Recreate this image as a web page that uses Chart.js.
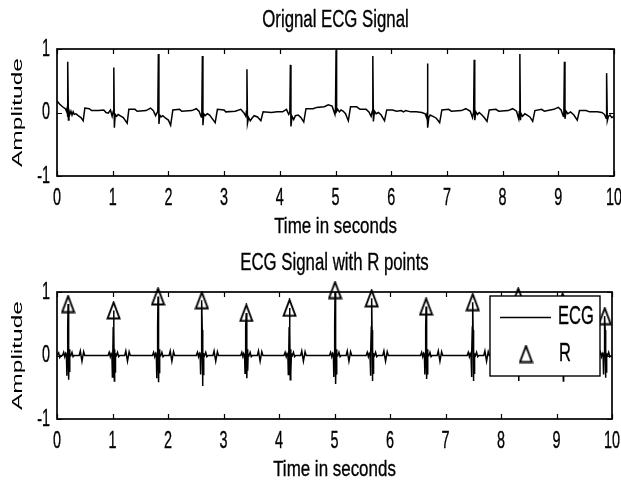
<!DOCTYPE html>
<html>
<head>
<meta charset="utf-8">
<script src="https://cdn.jsdelivr.net/npm/chart.js@4.4.1/dist/chart.umd.min.js"></script>
<style>
  html, body { margin: 0; padding: 0; background: #fff; }
  .panel { position: relative; width: 621px; height: 243px; }
</style>
</head>
<body>
<div class="panel"><canvas id="ecgChart"></canvas></div>
<div class="panel"><canvas id="rChart"></canvas></div>
<script>
// tick values shown on both axes
var xTickVals = [0, 1, 2, 3, 4, 5, 6, 7, 8, 9, 10];
var yTickVals = [-1, 0, 1];

// raw ECG (top panel), vertices
var ecgTime = [
  0.00, 0.05, 0.10, 0.15, 0.17, 0.18, 0.19, 0.195, 0.205, 0.215, 0.23, 0.25, 0.27, 0.29, 0.31, 0.34, 0.38, 0.43, 0.47, 0.50, 0.58, 0.62, 0.75, 0.84, 0.88, 0.92, 0.96, 0.99, 1.01,
  1.02, 1.03, 1.045, 1.07, 1.10, 1.13, 1.19, 1.26, 1.29, 1.40, 1.44, 1.60, 1.68, 1.73, 1.77, 1.81,
  1.82, 1.83, 1.845, 1.87, 1.90, 1.95, 2.00, 2.04, 2.08, 2.20, 2.24, 2.42, 2.50, 2.55, 2.59, 2.60,
  2.61, 2.62, 2.635, 2.66, 2.70, 2.74, 2.79, 2.84, 2.88, 3.00, 3.03, 3.20, 3.30, 3.36, 3.39, 3.40,
  3.41, 3.42, 3.44, 3.47, 3.50, 3.54, 3.60, 3.66, 3.70, 3.85, 3.95, 4.05, 4.12, 4.16, 4.18,
  4.19, 4.20, 4.22, 4.25, 4.28, 4.33, 4.38, 4.43, 4.47, 4.60, 4.66, 4.80, 4.87, 4.94, 4.99, 5.00,
  5.01, 5.02, 5.04, 5.07, 5.10, 5.14, 5.18, 5.23, 5.27, 5.38, 5.44, 5.55, 5.60, 5.64, 5.66,
  5.67, 5.68, 5.70, 5.73, 5.77, 5.82, 5.88, 5.92, 6.02, 6.10, 6.18, 6.22, 6.26, 6.35, 6.45, 6.55, 6.61, 6.635, 6.645,
  6.65, 6.66, 6.675, 6.70, 6.75, 6.81, 6.87, 6.91, 7.03, 7.08, 7.26, 7.34, 7.42, 7.46, 7.48,
  7.49, 7.50, 7.52, 7.55, 7.58, 7.63, 7.67, 7.72, 7.76, 7.88, 7.93, 8.10, 8.18, 8.25, 8.29, 8.30,
  8.31, 8.32, 8.335, 8.36, 8.40, 8.44, 8.49, 8.54, 8.58, 8.70, 8.75, 8.92, 9.00, 9.05, 9.09, 9.10,
  9.11, 9.12, 9.14, 9.17, 9.22, 9.28, 9.34, 9.38, 9.50, 9.56, 9.70, 9.78, 9.83, 9.86, 9.865,
  9.87, 9.88, 9.90, 9.93, 9.96, 10.0
];
var ecgAmp = [
  0.18, 0.13, 0.09, 0.06, 0.02, 0.06, -0.07, 0.80, -0.12, 0.03, -0.03, 0.02, -0.04, 0.01, -0.03, -0.02, -0.05, -0.08, -0.13, 0.07, 0.06, 0.03, 0.03, 0.04, 0.00, -0.01, 0.04, -0.06, 0.02,
  0.71, -0.24, -0.03, -0.06, -0.03, -0.05, -0.08, -0.17, 0.05, 0.05, 0.02, 0.03, 0.07, 0.03, -0.05, 0.02,
  0.92, -0.18, -0.04, -0.07, -0.05, -0.09, -0.12, -0.20, 0.04, 0.05, 0.02, 0.03, 0.06, 0.02, -0.07, 0.01,
  0.89, -0.20, -0.02, -0.05, -0.02, -0.04, -0.10, -0.16, 0.05, 0.04, 0.01, 0.02, 0.05, -0.01, -0.06, 0.02,
  0.68, -0.17, -0.08, -0.13, -0.09, -0.05, -0.07, -0.13, 0.01, 0.00, 0.01, 0.01, 0.05, -0.03, 0.00,
  0.75, -0.22, -0.06, -0.11, -0.05, -0.04, -0.08, -0.15, 0.06, 0.06, 0.08, 0.09, 0.12, 0.10, -0.03, 0.06,
  0.98, 0.02, 0.05, 0.01, 0.04, 0.02, -0.02, -0.13, 0.09, 0.09, 0.05, 0.05, 0.01, -0.06, 0.02,
  0.89, -0.14, 0.02, -0.02, 0.00, -0.04, -0.13, 0.04, 0.04, 0.02, 0.03, 0.01, 0.03, 0.01, 0.01, 0.00, -0.02, -0.08, 0.00,
  0.77, -0.24, -0.08, -0.04, -0.06, -0.09, -0.16, 0.04, 0.05, 0.02, 0.03, 0.06, 0.02, -0.08, 0.01,
  0.83, -0.12, 0.01, -0.03, 0.00, -0.04, -0.08, -0.14, 0.04, 0.05, 0.02, 0.03, 0.06, 0.02, -0.10, 0.01,
  0.92, -0.12, -0.02, -0.06, -0.02, -0.04, -0.07, -0.14, 0.03, 0.05, 0.02, 0.05, 0.08, 0.04, -0.06, 0.02,
  0.80, -0.10, 0.02, -0.02, 0.01, -0.04, -0.12, 0.03, 0.03, 0.01, 0.01, 0.00, -0.03, -0.09, 0.00,
  0.62, -0.13, -0.06, -0.04, -0.08, -0.06
];

// filtered ECG (bottom panel)
var filtTime = [
  0.00, 0.03, 0.05, 0.07,
  0.10, 0.12, 0.14, 0.155, 0.170, 0.178, 0.186, 0.193, 0.20, 0.207, 0.213, 0.219, 0.226, 0.234, 0.25, 0.27, 0.29, 0.31, 0.40, 0.42, 0.45, 0.48, 0.50,
  0.92, 0.94, 0.96, 0.975, 0.990, 0.998, 1.006, 1.013, 1.02, 1.027, 1.033, 1.039, 1.046, 1.054, 1.07, 1.09, 1.11, 1.13, 1.22, 1.24, 1.27, 1.30, 1.32,
  1.72, 1.74, 1.76, 1.775, 1.790, 1.798, 1.806, 1.813, 1.82, 1.827, 1.833, 1.839, 1.846, 1.854, 1.87, 1.89, 1.91, 1.93, 2.02, 2.04, 2.07, 2.10, 2.12,
  2.51, 2.53, 2.55, 2.565, 2.580, 2.588, 2.596, 2.603, 2.61, 2.617, 2.623, 2.629, 2.636, 2.644, 2.66, 2.68, 2.70, 2.72, 2.81, 2.83, 2.86, 2.89, 2.91,
  3.31, 3.33, 3.35, 3.365, 3.380, 3.388, 3.396, 3.403, 3.41, 3.417, 3.423, 3.429, 3.436, 3.444, 3.46, 3.48, 3.50, 3.52, 3.61, 3.63, 3.66, 3.69, 3.71,
  4.09, 4.11, 4.13, 4.145, 4.160, 4.168, 4.176, 4.183, 4.19, 4.197, 4.203, 4.209, 4.216, 4.224, 4.24, 4.26, 4.28, 4.30, 4.39, 4.41, 4.44, 4.47, 4.49,
  4.91, 4.93, 4.95, 4.965, 4.980, 4.988, 4.996, 5.003, 5.01, 5.017, 5.023, 5.029, 5.036, 5.044, 5.06, 5.08, 5.10, 5.12, 5.21, 5.23, 5.26, 5.29, 5.31,
  5.57, 5.59, 5.61, 5.625, 5.640, 5.648, 5.656, 5.663, 5.67, 5.677, 5.683, 5.689, 5.696, 5.704, 5.72, 5.74, 5.76, 5.78, 5.87, 5.89, 5.92, 5.95, 5.97,
  6.55, 6.57, 6.59, 6.605, 6.620, 6.628, 6.636, 6.643, 6.65, 6.657, 6.663, 6.669, 6.676, 6.684, 6.70, 6.72, 6.74, 6.76, 6.85, 6.87, 6.90, 6.93, 6.95,
  7.39, 7.41, 7.43, 7.445, 7.460, 7.468, 7.476, 7.483, 7.49, 7.497, 7.503, 7.509, 7.516, 7.524, 7.54, 7.56, 7.58, 7.60, 7.69, 7.71, 7.74, 7.77, 7.79,
  8.21, 8.23, 8.25, 8.265, 8.280, 8.288, 8.296, 8.303, 8.31, 8.317, 8.323, 8.329, 8.336, 8.344, 8.36, 8.38, 8.40, 8.42, 8.51, 8.53, 8.56, 8.59, 8.61,
  9.01, 9.03, 9.05, 9.065, 9.080, 9.088, 9.096, 9.103, 9.11, 9.117, 9.123, 9.129, 9.136, 9.144, 9.16, 9.18, 9.20, 9.22, 9.31, 9.33, 9.36, 9.39, 9.41,
  9.77, 9.79, 9.81, 9.825, 9.840, 9.848, 9.856, 9.863, 9.87, 9.877, 9.883, 9.889, 9.896, 9.904, 9.92, 9.94, 9.96, 10.0
];
var filtAmp = [
  0.00, 0.04, -0.03, 0.00,
  0.00, 0.05, -0.02, 0.03, 0.00, -0.32, 0.04, 0.45, 0.81, 0.40, -0.38, 0.10, -0.26, 0.02, 0.00, 0.05, -0.02, 0.00, 0.00, 0.07, -0.09, 0.06, 0.00,
  0.00, 0.05, -0.02, 0.03, 0.00, -0.34, 0.04, 0.45, 0.71, 0.40, -0.40, 0.10, -0.26, 0.02, 0.00, 0.05, -0.02, 0.00, 0.00, 0.07, -0.09, 0.06, 0.00,
  0.00, 0.05, -0.02, 0.03, 0.00, -0.36, 0.04, 0.45, 0.93, 0.40, -0.42, 0.10, -0.28, 0.02, 0.00, 0.05, -0.02, 0.00, 0.00, 0.07, -0.09, 0.06, 0.00,
  0.00, 0.05, -0.02, 0.03, 0.00, -0.30, 0.04, 0.45, 0.87, 0.40, -0.48, 0.10, -0.30, 0.02, 0.00, 0.05, -0.02, 0.00, 0.00, 0.07, -0.09, 0.06, 0.00,
  0.00, 0.05, -0.02, 0.03, 0.00, -0.28, 0.04, 0.45, 0.67, 0.40, -0.36, 0.10, -0.24, 0.02, 0.00, 0.05, -0.02, 0.00, 0.00, 0.07, -0.09, 0.06, 0.00,
  0.00, 0.05, -0.02, 0.03, 0.00, -0.30, 0.04, 0.45, 0.75, 0.40, -0.38, 0.10, -0.26, 0.02, 0.00, 0.05, -0.02, 0.00, 0.00, 0.07, -0.09, 0.06, 0.00,
  0.00, 0.05, -0.02, 0.03, 0.00, -0.34, 0.04, 0.45, 1.03, 0.40, -0.45, 0.10, -0.30, 0.02, 0.00, 0.05, -0.02, 0.00, 0.00, 0.07, -0.09, 0.06, 0.00,
  0.00, 0.05, -0.02, 0.03, 0.00, -0.32, 0.04, 0.45, 0.90, 0.40, -0.40, 0.10, -0.28, 0.02, 0.00, 0.05, -0.02, 0.00, 0.00, 0.07, -0.09, 0.06, 0.00,
  0.00, 0.05, -0.02, 0.03, 0.00, -0.30, 0.04, 0.45, 0.77, 0.40, -0.37, 0.10, -0.30, 0.02, 0.00, 0.05, -0.02, 0.00, 0.00, 0.07, -0.09, 0.06, 0.00,
  0.00, 0.05, -0.02, 0.03, 0.00, -0.34, 0.04, 0.45, 0.84, 0.40, -0.40, 0.10, -0.28, 0.02, 0.00, 0.05, -0.02, 0.00, 0.00, 0.07, -0.09, 0.06, 0.00,
  0.00, 0.05, -0.02, 0.03, 0.00, -0.30, 0.04, 0.45, 0.93, 0.40, -0.40, 0.10, -0.26, 0.02, 0.00, 0.05, -0.02, 0.00, 0.00, 0.07, -0.09, 0.06, 0.00,
  0.00, 0.05, -0.02, 0.03, 0.00, -0.30, 0.04, 0.45, 0.85, 0.40, -0.40, 0.10, -0.26, 0.02, 0.00, 0.05, -0.02, 0.00, 0.00, 0.07, -0.09, 0.06, 0.00,
  0.00, 0.05, -0.02, 0.03, 0.00, -0.30, 0.04, 0.45, 0.62, 0.40, -0.35, 0.10, -0.26, 0.02, 0.00, 0.05, -0.02, 0.00
];

// detected R points
var rTime = [0.20, 1.02, 1.82, 2.61, 3.41, 4.19, 5.01, 5.67, 6.65, 7.49, 8.31, 9.11, 9.87];
var rAmp  = [0.81, 0.71, 0.93, 0.87, 0.67, 0.75, 1.03, 0.90, 0.77, 0.84, 0.93, 0.85, 0.62];

var FONT = '"Liberation Sans", Arial, sans-serif';
Chart.defaults.color = '#000';
Chart.defaults.font.family = FONT;

function pairs(xs, ys) {
  return xs.map(function(x, i){ return {x: x, y: ys[i]} });
}

// the original figure was squeezed sideways, so the text is drawn narrow
function narrowText(ctx, text, x, y, size, squeeze, align, upright) {
  ctx.save();
  ctx.translate(x, y);
  if (upright) {
    ctx.rotate(-Math.PI / 2);
    ctx.scale(1, squeeze);
  } else {
    ctx.scale(squeeze, 1);
  }
  ctx.font = size + 'px ' + FONT;
  ctx.fillStyle = '#000';
  ctx.textAlign = align;
  ctx.textBaseline = 'middle';
  ctx.fillText(text, 0, 0);
  if (!upright) {
    ctx.strokeStyle = '#000';
    ctx.lineWidth = 0.35;
    ctx.strokeText(text, 0, 0);
  }
  ctx.restore();
}

// open triangle marker, a bit taller than wide like the original
var tri = document.createElement('canvas');
tri.width = 15; tri.height = 19;
(function(){
  var c = tri.getContext('2d');
  c.strokeStyle = '#000';
  c.lineWidth = 1.9;
  c.beginPath();
  c.moveTo(7.5, 1.5);
  c.lineTo(1.5, 17.5);
  c.lineTo(13.5, 17.5);
  c.closePath();
  c.stroke();
})();

// box round the plot with inward ticks, plus all the labels
var axesBox = {
  id: 'axesBox',
  afterDatasetsDraw: function(chart) {
    var ctx = chart.ctx, a = chart.chartArea;
    var xs = chart.scales.x, ys = chart.scales.y;
    ctx.save();
    ctx.strokeStyle = '#000';
    ctx.lineWidth = 1.2;
    ctx.beginPath();
    xs.ticks.forEach(function(t){
      var px = Math.round(xs.getPixelForValue(t.value)) + 0.5;
      ctx.moveTo(px, a.top); ctx.lineTo(px, a.top + 5);
      ctx.moveTo(px, a.bottom); ctx.lineTo(px, a.bottom - 5);
    });
    ys.ticks.forEach(function(t){
      var py = Math.round(ys.getPixelForValue(t.value)) + 0.5;
      ctx.moveTo(a.left, py); ctx.lineTo(a.left + 5, py);
      ctx.moveTo(a.right, py); ctx.lineTo(a.right - 5, py);
    });
    ctx.stroke();
    ctx.lineWidth = 1.7;
    ctx.strokeRect(a.left, a.top, a.right - a.left, a.bottom - a.top);
    ctx.restore();

    var mid = (a.left + a.right) / 2;
    narrowText(ctx, chart.options.plugins.title.text, mid, a.top - 28, 23, 0.73, 'center');
    xs.ticks.forEach(function(t){
      narrowText(ctx, String(t.value), xs.getPixelForValue(t.value), a.bottom + 22, 24, 0.6, 'center');
    });
    narrowText(ctx, xs.options.title.text, mid, a.bottom + 51, 22, 0.77, 'center');
    ys.ticks.forEach(function(t){
      narrowText(ctx, String(t.value), a.left - 7, ys.getPixelForValue(t.value), 24, 0.6, 'right');
    });
    narrowText(ctx, ys.options.title.text, 18, (a.top + a.bottom) / 2, 24.5, 0.62, 'center', true);
  }
};

// matlab style legend: white box in the top right corner
var boxLegend = {
  id: 'boxLegend',
  afterDatasetsDraw: function(chart) {
    var ctx = chart.ctx, a = chart.chartArea;
    var w = 110, h = 80;
    var left = a.right - 12 - w, top = a.top + 4;
    var line = chart.data.datasets[1], marks = chart.data.datasets[0];
    ctx.save();
    ctx.fillStyle = '#fff';
    ctx.fillRect(left, top, w, h);
    ctx.strokeStyle = '#000';
    ctx.lineWidth = 1.4;
    ctx.strokeRect(left, top, w, h);
    ctx.lineWidth = 1.5;
    ctx.beginPath();
    ctx.moveTo(left + 10, top + 21.5);
    ctx.lineTo(left + 61, top + 21.5);
    ctx.stroke();
    ctx.drawImage(tri, left + 36 - tri.width / 2, top + 58 - tri.height / 2);
    ctx.restore();
    narrowText(ctx, line.label, left + 68, top + 21, 25, 0.66, 'left');
    narrowText(ctx, marks.label, left + 69, top + 58, 25, 0.66, 'left');
  }
};

function makeOptions(titleText) {
  return {
    responsive: true,
    maintainAspectRatio: false,
    animation: false,
    devicePixelRatio: 1,
    layout: { padding: { left: 0, right: 7, top: 49, bottom: 0 } },
    plugins: {
      legend: { display: false },
      tooltip: { enabled: false },
      title: { display: false, text: titleText }
    },
    scales: {
      x: {
        type: 'linear',
        min: 0, max: 10,
        grid: { display: false, drawTicks: false },
        border: { display: false },
        afterBuildTicks: function(s){ s.ticks = xTickVals.map(function(v){ return {value: v} }) },
        afterFit: function(s){ s.height = 67; s.paddingLeft = 0; s.paddingRight = 0 },
        ticks: { display: false },
        title: { display: false, text: 'Time in seconds' }
      },
      y: {
        min: -1, max: 1,
        grid: { display: false, drawTicks: false },
        border: { display: false },
        afterBuildTicks: function(s){ s.ticks = yTickVals.map(function(v){ return {value: v} }) },
        afterFit: function(s){ s.width = 57; s.paddingTop = 0; s.paddingBottom = 0 },
        ticks: { display: false },
        title: { display: false, text: 'Amplitude' }
      }
    }
  };
}

new Chart(document.getElementById('ecgChart'), {
  type: 'line',
  data: {
    datasets: [{
      label: 'ECG',
      data: pairs(ecgTime, ecgAmp),
      borderColor: '#000',
      borderWidth: 1.5,
      pointRadius: 0,
      tension: 0
    }]
  },
  options: makeOptions('Orignal ECG Signal'),
  plugins: [axesBox]
});

new Chart(document.getElementById('rChart'), {
  type: 'line',
  data: {
    datasets: [{
      label: 'R',
      data: pairs(rTime, rAmp),
      showLine: false,
      pointStyle: tri,
      pointRadius: 8,
      borderColor: '#000',
      clip: false
    }, {
      label: 'ECG',
      data: pairs(filtTime, filtAmp),
      borderColor: '#000',
      borderWidth: 1.5,
      pointRadius: 0,
      tension: 0
    }]
  },
  options: makeOptions('ECG Signal with R points'),
  plugins: [axesBox, boxLegend]
});
</script>
</body>
</html>
